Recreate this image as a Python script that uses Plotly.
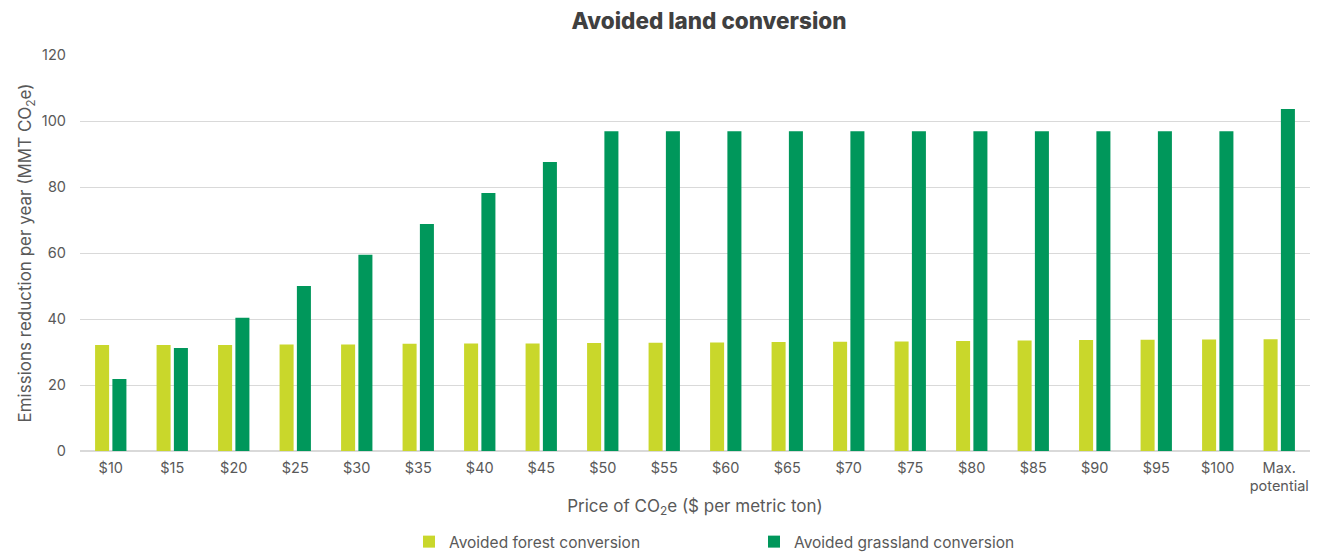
import plotly.graph_objects as go

categories = ["$10", "$15", "$20", "$25", "$30", "$35", "$40", "$45", "$50", "$55",
              "$60", "$65", "$70", "$75", "$80", "$85", "$90", "$95", "$100", "Max.<br>potential"]
forest = [32.1, 32.1, 32.1, 32.3, 32.3, 32.5, 32.6, 32.6, 32.7, 32.8,
          32.9, 33.0, 33.1, 33.2, 33.3, 33.5, 33.6, 33.7, 33.8, 33.9]
grassland = [21.8, 31.2, 40.4, 50.0, 59.5, 68.8, 78.2, 87.6, 96.9, 96.9,
             96.9, 96.9, 96.9, 96.9, 96.9, 96.9, 96.9, 96.9, 96.9, 103.6]
y_ticks = [0, 20, 40, 60, 80, 100, 120]

FONT = "Inter, Roboto, sans-serif"
GREY = "#595959"

fig = go.Figure()
fig.add_trace(go.Bar(x=categories, y=forest, name="Avoided forest conversion",
                     marker=dict(color="#c9d72b", line=dict(width=0))))
fig.add_trace(go.Bar(x=categories, y=grassland, name="Avoided grassland conversion",
                     marker=dict(color="#00975b", line=dict(width=0))))

fig.update_layout(
    width=1314, height=544,
    margin=dict(l=72, r=12, t=47, b=101, autoexpand=False),
    paper_bgcolor="white", plot_bgcolor="white",
    barmode="group", bargap=0.437, bargroupgap=0.19,
    font=dict(family=FONT, color=GREY, size=14),
    title=dict(text="Avoided land conversion", x=0.5335, xanchor="center", y=0.99, yanchor="top",
               font=dict(family="Inter, Liberation Sans, sans-serif", size=22.5, color="#404040", weight=800)),
    xaxis=dict(
        title=dict(text="Price of CO<sub>2</sub>e ($ per metric ton)", font=dict(size=17, color=GREY), standoff=6),
        tickfont=dict(size=14.5, color=GREY), showgrid=False, showline=False, ticks="",
        automargin=False, ticklabelstandoff=6,
    ),
    yaxis=dict(
        title=dict(text="Emissions reduction per year (MMT CO<sub>2</sub>e)", font=dict(size=17, color=GREY), standoff=5),
        range=[0, 120], tickvals=y_ticks, tickfont=dict(size=14.5, color=GREY),
        showgrid=True, gridcolor="#d9d9d9", gridwidth=1, zeroline=True, zerolinecolor="#d9d9d9",
        ticks="", automargin=False, ticklabelstandoff=13,
    ),
    legend=dict(orientation="h", x=0.2675, xanchor="left", y=-0.187, yanchor="top",
                font=dict(size=15.5, color=GREY), entrywidth=300, entrywidthmode="pixels",
                itemwidth=30, traceorder="normal"),
)

fig.write_html("out.html")
